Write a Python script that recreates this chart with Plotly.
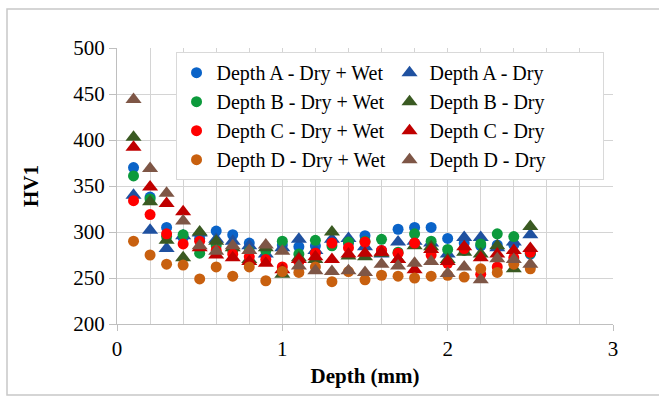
import plotly.graph_objects as go

depth = [0.1, 0.2, 0.3, 0.4, 0.5, 0.6, 0.7, 0.8, 0.9, 1.0, 1.1, 1.2, 1.3,
         1.4, 1.5, 1.6, 1.7, 1.8, 1.9, 2.0, 2.1, 2.2, 2.3, 2.4, 2.5]

a_wet = [370, 338, 305, 294, 293, 301, 297, 288, 283, 286, 284, 285, 290,
         288, 296, 280, 303, 305, 305, 293, 288, 285, 286, 286, 276]
a_dry = [340, 302, 282, 296, 299, 292, 290, 285, 276, 283, 292, 280, 292,
         293, 284, 276, 289, 290, 288, 276, 294, 294, 283, 289, 297]
b_wet = [361, 336, 295, 297, 277, 285, 280, 279, 280, 290, 276, 291, 285,
         289, 290, 292, 278, 298, 290, 281, 280, 287, 298, 295, 277]
b_dry = [403, 333, 291, 272, 300, 290, 283, 270, 283, 254, 272, 270, 300,
         274, 273, 277, 270, 285, 284, 270, 278, 276, 285, 260, 306]
c_wet = [334, 319, 298, 287, 290, 280, 276, 273, 270, 262, 268, 277, 288,
         283, 289, 280, 277, 288, 275, 266, 282, 254, 262, 272, 278]
c_dry = [392, 349, 331, 322, 283, 275, 272, 268, 266, 259, 270, 273, 270,
         276, 277, 278, 270, 259, 281, 268, 284, 272, 276, 280, 282]
d_wet = [290, 275, 265, 264, 249, 262, 252, 262, 247, 257, 256, 262, 246,
         257, 248, 253, 252, 250, 252, 253, 251, 260, 256, 265, 260]
d_dry = [444, 369, 342, 312, 285, 279, 285, 280, 286, 279, 263, 258, 257,
         258, 256, 265, 263, 266, 268, 255, 262, 248, 271, 270, 265]

series_names = ["Depth A - Dry + Wet", "Depth A - Dry",
                "Depth B - Dry + Wet", "Depth B - Dry",
                "Depth C - Dry + Wet", "Depth C - Dry",
                "Depth D - Dry + Wet", "Depth D - Dry"]
series_values = [a_wet, a_dry, b_wet, b_dry, c_wet, c_dry, d_wet, d_dry]
series_colors = ["#0A63C8", "#1F51A0", "#0C9A3C", "#3A5A22",
                 "#FF0000", "#C00000", "#C8600F", "#7E5646"]
series_symbols = ["circle", "triangle-up"] * 4

FONT = "Liberation Serif"

fig = go.Figure()
for name, vals, col, sym in zip(series_names, series_values, series_colors, series_symbols):
    fig.add_trace(go.Scatter(
        x=depth, y=vals, mode="markers", name=name,
        marker=dict(color=col, symbol=sym,
                    size=11 if sym == "circle" else 14,
                    line=dict(width=0)),
    ))

grid = "#D4D4D4"
fig.update_layout(
    width=659, height=397,
    margin=dict(l=117, r=46, t=48, b=73),
    paper_bgcolor="white", plot_bgcolor="white",
    font=dict(family=FONT, size=20, color="black"),
    showlegend=True,
    legend=dict(
        orientation="h", x=0.118, y=0.985, xanchor="left", yanchor="top",
        bgcolor="white", bordercolor="#D9D9D9", borderwidth=1,
        font=dict(family=FONT, size=20, color="black"),
        entrywidth=168, entrywidthmode="pixels",
        itemsizing="trace",
    ),
    xaxis=dict(
        range=[0, 3], dtick=1, tick0=0,
        showgrid=True, gridcolor=grid, gridwidth=1,
        minor=dict(dtick=0.2, showgrid=True, gridcolor=grid, gridwidth=1),
        showline=True, linecolor="#BFBFBF", linewidth=1,
        ticks="outside", ticklen=6, tickcolor="#BFBFBF",
        zeroline=False,
        title=dict(text="<b>Depth (mm)</b>", font=dict(family=FONT, size=21), standoff=8),
        tickfont=dict(family=FONT, size=21),
    ),
    yaxis=dict(
        range=[200, 500], dtick=50, tick0=200,
        showgrid=True, gridcolor=grid, gridwidth=1,
        showline=True, linecolor="#BFBFBF", linewidth=1,
        ticks="outside", ticklen=7, tickcolor="#BFBFBF",
        zeroline=False,
        title=dict(text="<b>HV1</b>", font=dict(family=FONT, size=21), standoff=28),
        tickfont=dict(family=FONT, size=21),
    ),
    shapes=[dict(type="rect", xref="paper", yref="paper",
                 x0=(7 - 117) / 496, x1=(662 - 117) / 496,
                 y0=(324 - 395) / 276, y1=(324 - 9) / 276,
                 line=dict(color="#C8C8C8", width=1.5), layer="below")],
)

fig.write_html("out.html")
